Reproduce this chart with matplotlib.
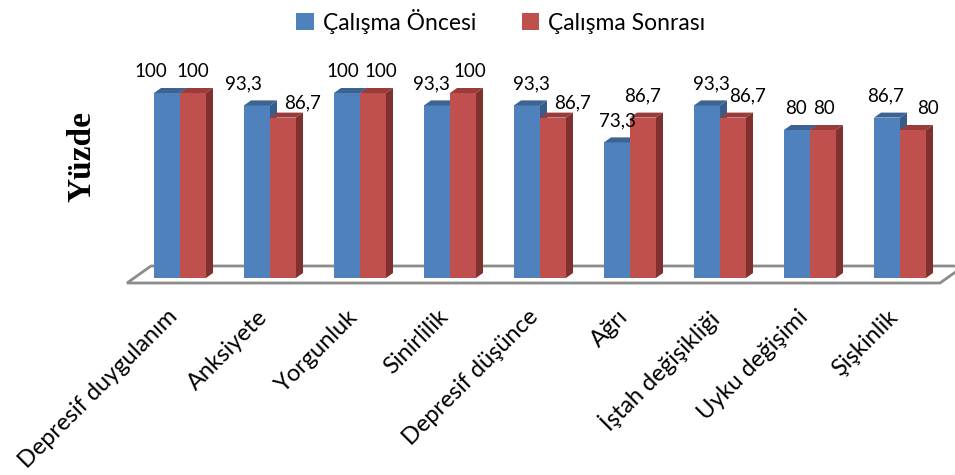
import matplotlib
matplotlib.use("Agg")
import matplotlib.pyplot as plt
from matplotlib.patches import Polygon, Patch
import numpy as np

categories = ["Depresif duygulanım", "Anksiyete", "Yorgunluk", "Sinirlilik",
              "Depresif düşünce", "Ağrı", "İştah değişikliği", "Uyku değişimi",
              "Şişkinlik"]
oncesi = [100, 93.3, 100, 93.3, 93.3, 73.3, 93.3, 80, 86.7]
sonrasi = [100, 86.7, 100, 100, 86.7, 86.7, 86.7, 80, 80]
series_names = ["Çalışma Öncesi", "Çalışma Sonrası"]
value_labels_1 = ["100", "93,3", "100", "93,3", "93,3", "73,3", "93,3", "80", "86,7"]
value_labels_2 = ["100", "86,7", "100", "100", "86,7", "86,7", "86,7", "80", "80"]

# label nudges (pixels) so neighbouring value labels don't collide
nudge_1 = [(-16, 0), (-14, 0), (-4, 0), (-6, 0), (4, 0), (0, 0), (4, 0), (-1, 0), (-1, 0)]
nudge_2 = [(0, 0), (20, -7), (8, 0), (7, 0), (20, -7), (0, 0), (15, 0), (1, 0), (15, 0)]

FONT = ["Lato", "DejaVu Sans"]

W, H, DPI = 955, 475, 100
fig = plt.figure(figsize=(W / DPI, H / DPI), dpi=DPI)

# axes geometry in pixels
ax_l, ax_r, ax_b, ax_t = 100, 955, 300, 55
ax = fig.add_axes([ax_l / W, 1 - ax_b / H, (ax_r - ax_l) / W, (ax_b - ax_t) / H])
px_per_cat = 90.0
px_per_val = 1.85
x0_px = 180.0   # first category centre
y0_px = 278.0   # value zero
ax.set_xlim((ax_l - x0_px) / px_per_cat, (ax_r - x0_px) / px_per_cat)
ax.set_ylim((y0_px - ax_b) / px_per_val, (y0_px - ax_t) / px_per_val)
ax.axis("off")

def px2x(p):
    return (p - x0_px) / px_per_cat

def px2y(p):
    return (y0_px - p) / px_per_val

# 3D floor
floor = Polygon([(px2x(127), px2y(283)), (px2x(940), px2y(283)),
                 (px2x(964), px2y(266)), (px2x(151), px2y(266))],
                closed=True, facecolor="white", edgecolor="#8c8c8c", lw=2,
                clip_on=False, zorder=1)
ax.add_patch(floor)

bw = 26 / px_per_cat
ddx = 7 / px_per_cat
ddy = 5 / px_per_val
colors = [("#4f81bd", "#3c6391", "#385d8a"), ("#c0504d", "#9a3c3a", "#7f302f")]

x = np.arange(len(categories))
z = 2
for i in range(len(categories)):
    for s, vals in enumerate([oncesi, sonrasi]):
        front, top, side = colors[s]
        left = x[i] - bw + s * bw
        v = vals[i]
        ax.bar(left, v, width=bw, align="edge", color=front,
               edgecolor="none", zorder=z)
        ax.add_patch(Polygon([(left, v), (left + bw, v), (left + bw + ddx, v + ddy),
                              (left + ddx, v + ddy)], closed=True,
                             facecolor=top, edgecolor="none", zorder=z))
        ax.add_patch(Polygon([(left + bw, 0), (left + bw + ddx, ddy),
                              (left + bw + ddx, v + ddy), (left + bw, v)],
                             closed=True, facecolor=side, edgecolor="none", zorder=z))
        z += 1

# value labels
for s, (vals, labs, nudges) in enumerate([(oncesi, value_labels_1, nudge_1),
                                          (sonrasi, value_labels_2, nudge_2)]):
    for i, (v, lab, (ndx, ndy)) in enumerate(zip(vals, labs, nudges)):
        cx = x[i] - bw / 2 + s * bw
        ax.annotate(lab, (cx, v), xytext=(ndx * 0.72, (16 + ndy) * 0.72),
                    textcoords="offset points", ha="center", va="baseline",
                    fontsize=13.5, family=FONT, color="black", zorder=50,
                    annotation_clip=False)

# category labels
for i, name in enumerate(categories):
    ax.text(x[i] + px2x(167) - px2x(180), px2y(306), name, rotation=45,
            rotation_mode="anchor", ha="right", va="top", fontsize=17,
            family=FONT, clip_on=False)

fig.text(82 / W, 1 - 157 / H, "Yüzde", rotation=90, ha="center", va="center",
         family=["Liberation Serif", "DejaVu Serif"], fontweight="bold",
         fontsize=24)

handles = [Patch(facecolor=colors[0][0]), Patch(facecolor=colors[1][0])]
fig.legend(handles, series_names, loc="center", bbox_to_anchor=(501 / W, 1 - 21 / H),
           ncol=2, frameon=False, prop={"family": FONT, "size": 16.5},
           handlelength=0.75, handleheight=0.75, handletextpad=0.4, columnspacing=2.0)

fig.savefig("out.png", dpi=DPI, facecolor="white")
